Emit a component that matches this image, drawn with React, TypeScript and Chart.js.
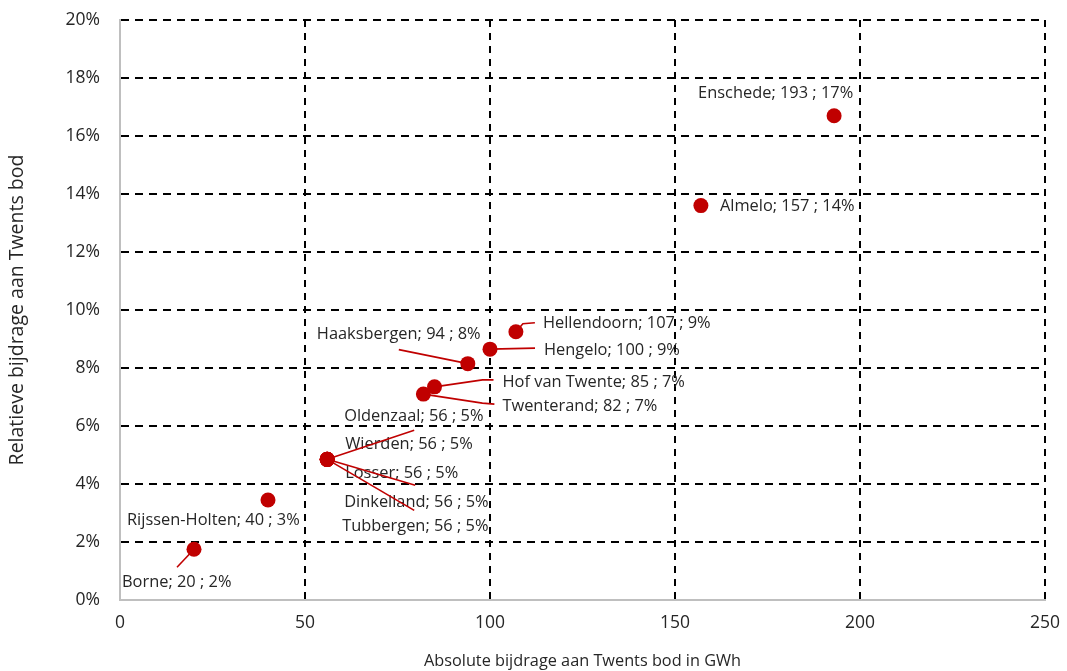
import React, { useEffect, useRef } from "react";
import { Chart, registerables } from "chart.js";

Chart.register(...registerables);

const names = [
  "Borne",
  "Rijssen-Holten",
  "Oldenzaal",
  "Wierden",
  "Losser",
  "Dinkelland",
  "Tubbergen",
  "Twenterand",
  "Hof van Twente",
  "Haaksbergen",
  "Hengelo",
  "Hellendoorn",
  "Almelo",
  "Enschede",
];
const absoluteGWh = [20, 40, 56, 56, 56, 56, 56, 82, 85, 94, 100, 107, 157, 193];
const relativePct = [1.75, 3.45, 4.85, 4.85, 4.85, 4.85, 4.85, 7.1, 7.35, 8.15, 8.65, 9.25, 13.6, 16.7];

const xTicks = [0, 50, 100, 150, 200, 250];
const yTickStep = 2;

// label placement (pixel offsets from the point): text left/centre, and leader path
const labelOffsets: [number, number][] = [
  [-72, 33],
  [-141, 20],
  [17, -43],
  [18, -15],
  [18, 14],
  [17, 43],
  [15, 67],
  [79, 12],
  [68, -5],
  [-151, -29],
  [54, 1],
  [27, -8],
  [19, 1],
  [-136, -22],
];
const leaderPaths: [number, number][][] = [
  [[0, 0], [-17, 18]],
  [],
  [[0, 0], [87, -29]],
  [],
  [[0, 0], [88, 26]],
  [[0, 0], [87, 51]],
  [],
  [[0, 0], [59, 9], [71, 10]],
  [[0, 0], [48, -7], [59, -7]],
  [[0, 0], [-69, -14]],
  [[0, 0], [45, -1]],
  [[0, 0], [7, -8], [19, -9]],
  [],
  [],
];

const RED = "#C00000";
const TEXT = "#262626";
const FONT = "'Open Sans', sans-serif";

const labelPlugin = {
  id: "pointLabels",
  beforeDatasetsDraw(chart: any) {
    const ctx = chart.ctx;
    const meta = chart.getDatasetMeta(0);
    ctx.save();
    ctx.font = `16.4px ${FONT}`;
    ctx.fillStyle = TEXT;
    ctx.textAlign = "left";
    ctx.textBaseline = "middle";
    meta.data.forEach((el: any, i: number) => {
      const text = `${names[i]}; ${absoluteGWh[i]} ; ${Math.round(relativePct[i])}%`;
      const [dx, dy] = labelOffsets[i];
      ctx.fillText(text, el.x + dx, el.y + dy);
    });
    ctx.strokeStyle = RED;
    ctx.lineWidth = 1.6;
    meta.data.forEach((el: any, i: number) => {
      const path = leaderPaths[i];
      if (!path.length) return;
      ctx.beginPath();
      path.forEach(([dx, dy], k) => {
        if (k === 0) ctx.moveTo(el.x + dx, el.y + dy);
        else ctx.lineTo(el.x + dx, el.y + dy);
      });
      ctx.stroke();
    });
    ctx.restore();
  },
};

const gridColor = (c: any) => (c.tick && c.tick.value === 0 ? "rgba(0,0,0,0)" : "#000");

export default function App() {
  const ref = useRef<HTMLCanvasElement>(null);
  useEffect(() => {
    if (!ref.current) return;
    const chart = new Chart(ref.current, {
      type: "scatter",
      data: {
        datasets: [
          {
            data: absoluteGWh.map((x, i) => ({ x, y: relativePct[i] })),
            backgroundColor: RED,
            borderColor: RED,
            pointRadius: 7.5,
            pointHoverRadius: 7.5,
            borderWidth: 0,
          },
        ],
      },
      options: {
        animation: false,
        responsive: false,
        maintainAspectRatio: false,
        layout: { padding: { left: 0, top: 20, right: 22, bottom: 0 } },
        plugins: { legend: { display: false }, tooltip: { enabled: false } },
        scales: {
          x: {
            type: "linear",
            min: 0,
            max: 250,
            afterBuildTicks: (scale: any) => {
              scale.ticks = xTicks.map((v) => ({ value: v }));
            },
            afterFit: (scale: any) => {
              scale.height = 71;
              scale.paddingLeft = 0;
              scale.paddingRight = 0;
              scale.paddingTop = 0;
              scale.paddingBottom = 0;
            },
            ticks: {
              color: TEXT,
              font: { family: FONT, size: 17.5 },
              padding: 13,
            },
            grid: { color: gridColor, lineWidth: 2, drawTicks: false },
            border: { display: true, color: "#BFBFBF", width: 2, dash: [7, 6] as any },
            title: {
              display: true,
              text: "Absolute bijdrage aan Twents bod in GWh",
              color: TEXT,
              font: { family: FONT, size: 16.3 },
              padding: { top: 0, bottom: 0 },
            },
          },
          y: {
            type: "linear",
            min: 0,
            max: 20,
            ticks: {
              stepSize: yTickStep,
              color: TEXT,
              font: { family: FONT, size: 17.5 },
              padding: 20,
              callback: (v: any) => `${v}%`,
            },
            afterFit: (scale: any) => {
              scale.width = 120;
              scale.paddingLeft = 0;
              scale.paddingRight = 0;
              scale.paddingTop = 0;
              scale.paddingBottom = 0;
            },
            grid: { color: gridColor, lineWidth: 2, drawTicks: false },
            border: { display: true, color: "#BFBFBF", width: 2, dash: [8, 6] as any },
            title: {
              display: true,
              text: "Relatieve bijdrage aan Twents bod",
              color: TEXT,
              font: { family: FONT, size: 19.5 },
              padding: { top: 6, bottom: 0 },
            },
          },
        },
      } as any,
      plugins: [labelPlugin],
    });
    return () => chart.destroy();
  }, []);
  return (
    <div style={{ position: "fixed", left: 0, top: 0, width: 1067, height: 671, background: "#fff" }}>
      <canvas ref={ref} width={1067} height={671} style={{ width: 1067, height: 671 }} />
    </div>
  );
}
